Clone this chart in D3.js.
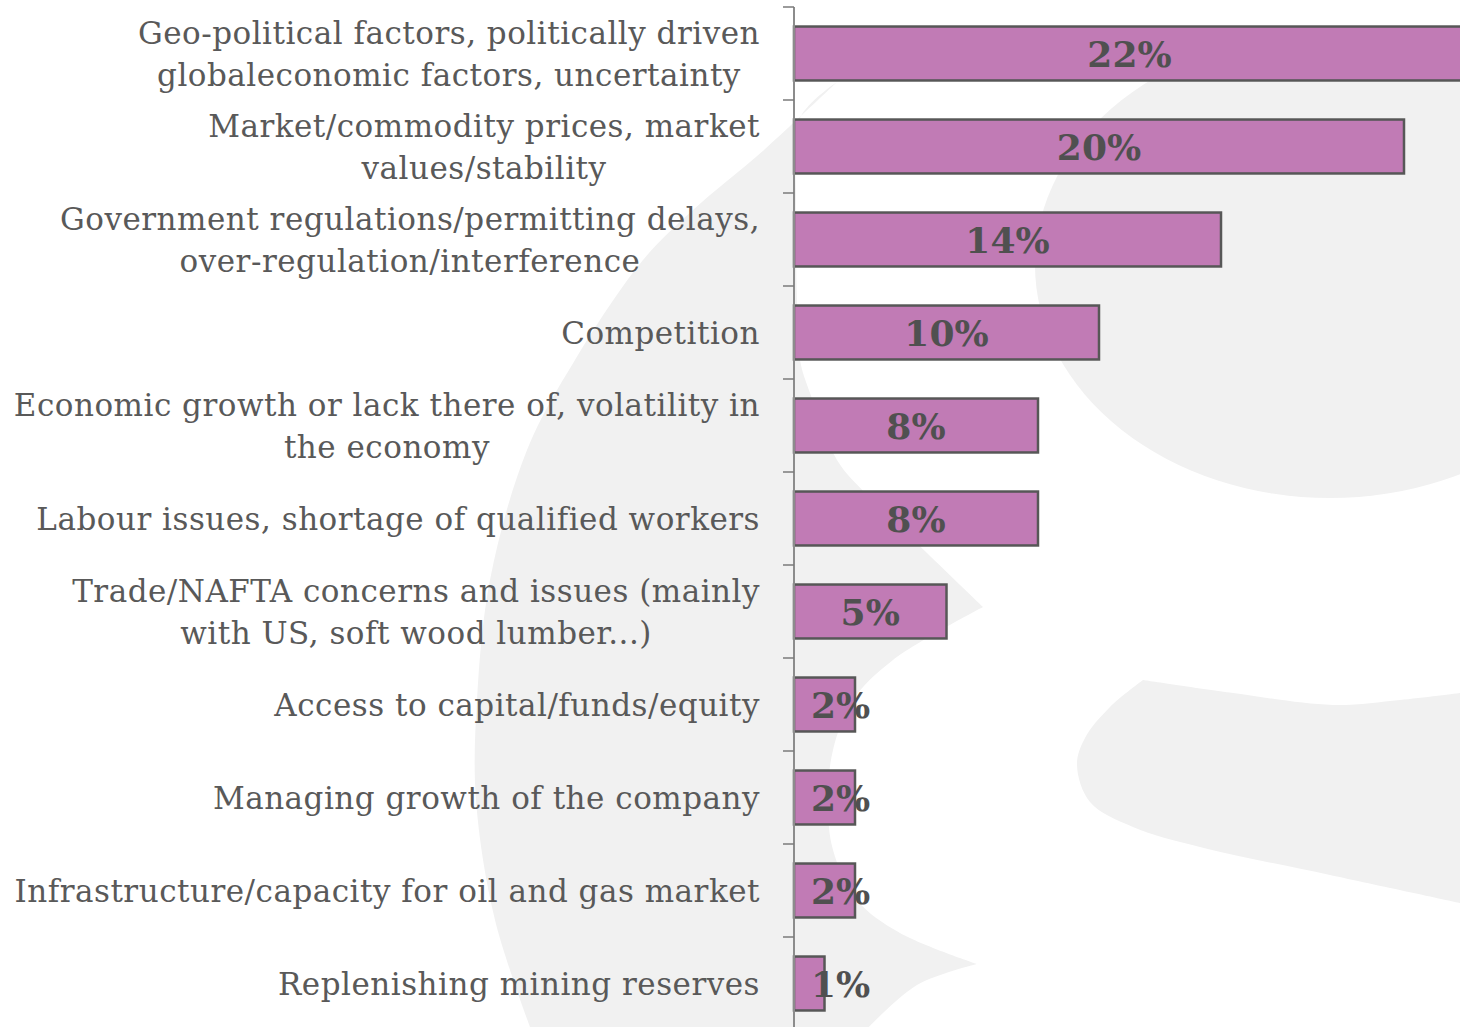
<!DOCTYPE html>
<html>
<head>
<meta charset="utf-8">
<script src="https://cdn.jsdelivr.net/npm/d3@7/dist/d3.min.js"></script>
<style>
  html, body { margin: 0; padding: 0; background: #ffffff; }
  svg { display: block; }
</style>
</head>
<body>
<svg id="chart" width="1460" height="1027"></svg>
<script>
// Survey: top challenges named by respondents (share of mentions)
const categories = [
  "Geo-political factors, politically driven\nglobaleconomic factors, uncertainty",
  "Market/commodity prices, market\nvalues/stability",
  "Government regulations/permitting delays,\nover-regulation/interference",
  "Competition",
  "Economic growth or lack there of, volatility in\nthe economy",
  "Labour issues, shortage of qualified workers",
  "Trade/NAFTA concerns and issues (mainly\nwith US, soft wood lumber...)",
  "Access to capital/funds/equity",
  "Managing growth of the company",
  "Infrastructure/capacity for oil and gas market",
  "Replenishing mining reserves"
];
const values = [22, 20, 14, 10, 8, 8, 5, 2, 2, 2, 1];
const valueLabels = ["22%", "20%", "14%", "10%", "8%", "8%", "5%", "2%", "2%", "2%", "1%"];

const W = 1460, H = 1027;
const axisX = 794;
const svg = d3.select("#chart");

// ---- background watermark (light grey brand glyph) ----
const bg = svg.append("g").attr("fill", "#f1f1f1");
const smooth = d3.line().curve(d3.curveCatmullRom.alpha(0.5));
function joinSegments(segs) {
  return segs.map((s, i) => {
    const d = s.length > 2 ? smooth(s) : "M" + s.map(p => p.join(",")).join("L");
    return i === 0 ? d : d.replace(/^M/, "L");
  }).join("") + "Z";
}
// left crescent
bg.append("path").attr("d", joinSegments([
  [[837,82],[764,150],[693,210],[643,260],[575,360],[527,450],[490,580],[477,700],[476,800],[495,920],[530,1027]],
  [[530,1040],[866,1040]],
  [[866,1030],[917,985],[977,964]],
  [[977,964],[900,933],[857,900],[833,850],[828,800],[833,750],[853,700],[893,660],[983,607]],
  [[983,607],[927,553],[865,493],[837,460],[810,393],[800,360],[797,300],[796,200],[800,118],[837,82]]
]));
// round bowl on the right
bg.append("ellipse").attr("cx", 1330).attr("cy", 265).attr("rx", 295).attr("ry", 233);
// lower tail
bg.append("path").attr("d", joinSegments([
  [[1143,680],[1233,693],[1333,705],[1400,700],[1460,693]],
  [[1470,693],[1470,905]],
  [[1460,903],[1330,875],[1200,847],[1133,827],[1090,802],[1077,765],[1085,738],[1110,707],[1143,680]]
]));

// ---- scales ----
const y = d3.scaleBand()
  .domain(categories)
  .range([7, 1030])
  .paddingInner(0.42)
  .paddingOuter(0.21);

const x = d3.scaleLinear()
  .domain([0, 22])
  .range([axisX, axisX + 22 * 30.5]);

const data = categories.map((c, i) => ({ c, v: values[i], label: valueLabels[i] }));

// ---- bars ----
svg.append("g").selectAll("rect")
  .data(data)
  .join("rect")
  .attr("x", x(0))
  .attr("y", d => y(d.c))
  .attr("width", d => x(d.v) - x(0))
  .attr("height", y.bandwidth())
  .attr("fill", "#c17bb5")
  .attr("stroke", "#575757")
  .attr("stroke-width", 2.5);

// ---- category axis (ticks between categories) ----
const axisG = svg.append("g");
const boundaries = d3.range(categories.length + 1).map(i => y.range()[0] + i * y.step());
axisG.append("line")
  .attr("x1", axisX).attr("x2", axisX)
  .attr("y1", boundaries[0]).attr("y2", H + 5)
  .attr("stroke", "#8c8c8c").attr("stroke-width", 2);
axisG.selectAll("line.tick")
  .data(boundaries)
  .join("line")
  .attr("class", "tick")
  .attr("x1", axisX - 11).attr("x2", axisX)
  .attr("y1", d => d).attr("y2", d => d)
  .attr("stroke", "#7a7a7a").attr("stroke-width", 1.5);

// ---- category labels: block right-aligned, lines centred within block ----
const labelFont = 31;
const lineH = 42;
const labelRight = 760;
const labelG = svg.append("g")
  .attr("font-family", "'DejaVu Serif', serif")
  .attr("font-size", labelFont)
  .attr("letter-spacing", 0.5)
  .attr("fill", "#595959");

data.forEach(d => {
  const lines = d.c.split("\n");
  const cy = y(d.c) + y.bandwidth() / 2;
  const t = labelG.append("text").attr("text-anchor", "middle");
  const spans = lines.map((ln, k) => t.append("tspan")
    .attr("y", cy + (k - (lines.length - 1) / 2) * lineH + labelFont * 0.36)
    .text(ln));
  const blockW = d3.max(spans, s => s.node().getComputedTextLength());
  spans.forEach(s => s.attr("x", labelRight - blockW / 2));
});

// ---- value labels ----
const valFont = 36;
const valG = svg.append("g")
  .attr("font-family", "'DejaVu Serif', serif")
  .attr("font-weight", "bold")
  .attr("font-size", valFont)
  .attr("fill", "#505050");

data.forEach(d => {
  const t = valG.append("text")
    .attr("text-anchor", "middle")
    .attr("y", y(d.c) + y.bandwidth() / 2 + valFont * 0.37)
    .text(d.label);
  const w = t.node().getComputedTextLength();
  const mid = (x(0) + x(d.v)) / 2;
  t.attr("x", Math.max(mid, x(0) + 17 + w / 2));
});
</script>
</body>
</html>
